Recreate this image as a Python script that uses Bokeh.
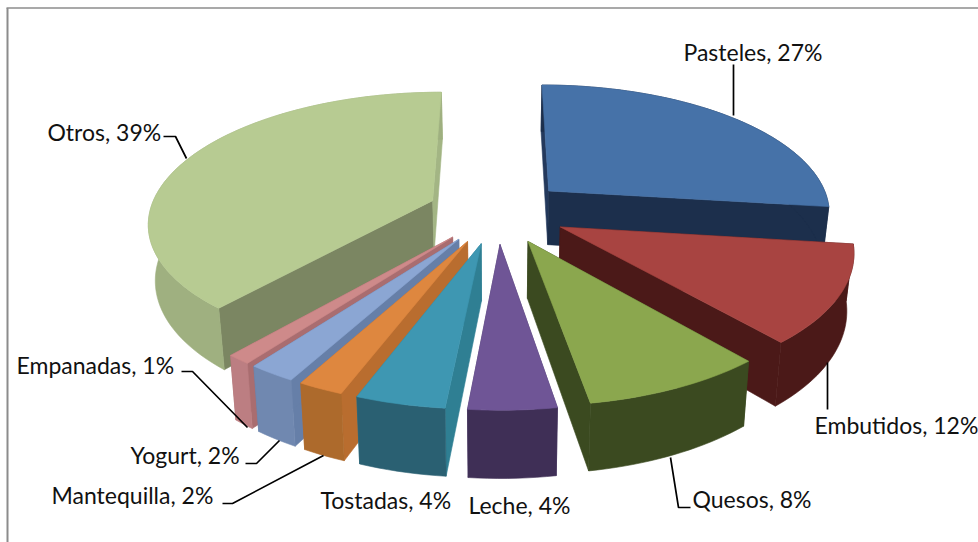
import numpy as np
from bokeh.plotting import figure
from bokeh.core.properties import value
from bokeh.embed import file_html
from bokeh.resources import INLINE

# data
categories = ["Pasteles", "Embutidos", "Quesos", "Leche", "Tostadas",
              "Mantequilla", "Yogurt", "Empanadas", "Otros"]
label_percent = [27, 12, 8, 4, 4, 2, 2, 1, 39]
# slice sizes as measured on the picture (labels are rounded)
slice_percent = [27.0, 11.8, 8.6, 4.1, 4.2, 2.15, 2.25, 1.15, 38.75]

# styles, per slice
top_colors = ["#4672A8", "#A84441", "#8BA74E", "#6F5596", "#3E97B2",
              "#DE873F", "#8BA6D3", "#CE8A8A", "#B7CB92"]
start_wall = ["#24395C", "#4B1918", "#3B4A20", "#4F3D6E", "#2F7F93",
              "#B96D2F", "#667FA8", "#A96D70", "#7B8662"]
end_wall = ["#1C2F4C", "#4B1918", "#3B4A20", "#4F3D6E", "#2F7F93",
            "#B96D2F", "#667FA8", "#A96D70", "#A3B584"]
arc_wall = ["#1C2F4C", "#4B1918", "#3B4A20", "#3F2F56", "#2A6072",
            "#AD6A2C", "#7088B0", "#BC7E82", "#9FB080"]
draw_order = ["Pasteles", "Otros", "Embutidos", "Empanadas", "Yogurt",
              "Mantequilla", "Tostadas", "Quesos", "Leche"]

# layout of the projection (page pixels)
VX, VY, Y0 = 497.0, -614.0, 211.0
K = 0.00055
RADIUS, EXPLODE, DEPTH = 283.0, 70.0, 55.0
NADIR = 0.98


def project(X, Y, drop=False):
    X, Y = np.asarray(X, float), np.asarray(Y, float)
    s = 1.0 / (1.0 + K * Y)
    x = VX + X * s
    y = VY + (Y0 - VY) * s
    if drop:
        x = VX + (x - VX) * NADIR
        y = y + DEPTH * s
    return x, y


polys_x, polys_y, fills = [], [], []


def add(x, y, c):
    polys_x.append(list(map(float, x)))
    polys_y.append(list(map(float, y)))
    fills.append(c)


fractions = np.array(slice_percent, float) / sum(slice_percent)
edges = np.concatenate([[0], np.cumsum(fractions)]) * 2 * np.pi
geometry = {}
for i, name in enumerate(categories):
    geometry[name] = (i, edges[i], edges[i + 1])

for name in draw_order:
    i, a0, a1 = geometry[name]
    mid = (a0 + a1) / 2
    ax, ay = EXPLODE * np.sin(mid), EXPLODE * np.cos(mid)
    t = np.linspace(a0, a1, max(6, int((a1 - a0) * 40)))
    Xarc, Yarc = ax + RADIUS * np.sin(t), ay + RADIUS * np.cos(t)
    tx, ty = project(Xarc, Yarc)
    bx, by = project(Xarc, Yarc, True)
    apx, apy = project(ax, ay)
    abx, aby = project(ax, ay, True)
    # radial walls
    add([apx, tx[0], bx[0], abx], [apy, ty[0], by[0], aby], start_wall[i])
    add([apx, tx[-1], bx[-1], abx], [apy, ty[-1], by[-1], aby], end_wall[i])
    # outer wall
    add(np.concatenate([tx, bx[::-1]]), np.concatenate([ty, by[::-1]]), arc_wall[i])
    # top face
    add(np.concatenate([[apx], tx]), np.concatenate([[apy], ty]), top_colors[i])

p = figure(width=978, height=542, x_range=(0, 978), y_range=(542, 0),
           output_backend="svg", toolbar_location=None, min_border=0)
p.axis.visible = False
p.grid.visible = False
p.outline_line_color = None
p.background_fill_color = "white"

# frame of the chart
p.line([7, 7], [542, 7.5], line_color="#8C8C8C", line_width=2)
p.line([6, 978], [7.5, 7.5], line_color="#8C8C8C", line_width=1.5)

p.patches(polys_x, polys_y, fill_color=fills, line_color=fills, line_width=0.6)

# leader lines
leaders_x = [[733, 733], [827, 827], [670, 678, 690], [163, 175, 186],
             [181, 192, 247], [245, 256, 279], [222, 232, 323]]
leaders_y = [[64, 115], [362, 409], [457, 507, 507], [136, 136, 158],
             [371, 371, 427], [463, 463, 440], [503, 503, 455]]
p.multi_line(leaders_x, leaders_y, line_color="black", line_width=1.7)

# labels
label_x = [683, 814, 692, 468, 320, 51, 130, 16, 47]
label_y = [51, 424, 498, 504, 499, 494, 454, 364, 131]
labels = [f"{c}, {v}%" for c, v in zip(categories, label_percent)]
p.text(label_x, label_y, text=labels, text_font=value("Lato"),
       text_font_size="23px", text_color="#111111",
       text_align="left", text_baseline="middle")

open("out.html", "w").write(file_html(p, INLINE))
